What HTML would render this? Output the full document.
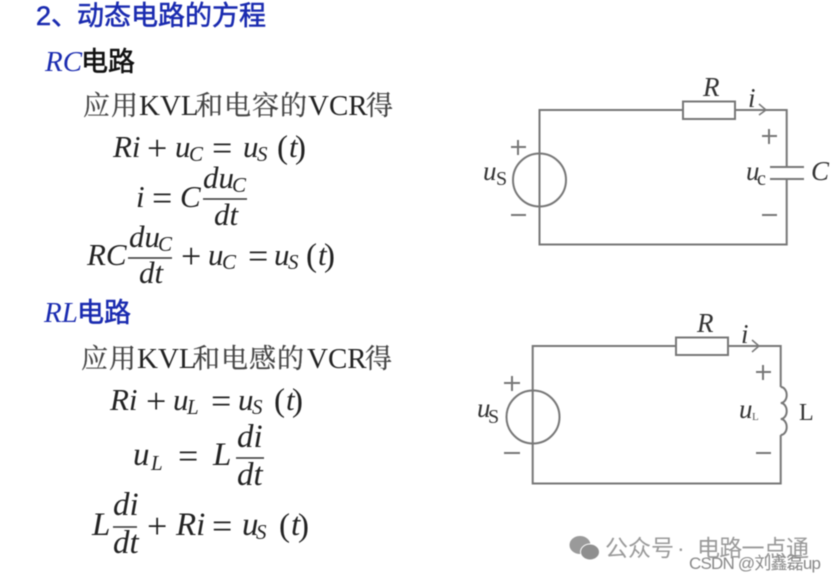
<!DOCTYPE html>
<html lang="zh">
<head>
<meta charset="utf-8">
<title>动态电路的方程</title>
<style>
html,body{margin:0;padding:0;background:#fff;width:836px;height:581px;overflow:hidden}
svg{display:block;filter:blur(.5px)}
text{font-family:"Liberation Serif","Noto Serif CJK SC",serif;fill:#222}
.m{font-style:italic;font-size:31px}
.M{font-style:italic;font-size:33px}
.s{font-style:italic;font-size:21px}
.o{font-size:36px;transform:translateY(3px)}
.p{font-size:33px;transform:translateY(1px)}
.cn{font-size:27px;fill:#444;stroke:#444;stroke-width:.25px}
.en{font-size:29px;fill:#222}
.h{font-family:"Liberation Sans","Noto Sans CJK SC",sans-serif;font-size:27px;fill:#1a2bb0;stroke:#1a2bb0;stroke-width:.55px}
.b{font-family:"Liberation Sans","Noto Sans CJK SC",sans-serif;font-size:27px;fill:#111;stroke:#111;stroke-width:.55px}
.bi{font-style:italic;font-size:29px;fill:#1a2bb0}
.w{stroke:#777;stroke-width:2;fill:none}
.f{stroke:#333;stroke-width:1.5;fill:none}
.c{font-style:italic;font-size:27px;fill:#333}
.cs{font-size:20px;fill:#333}
.wm{font-family:"Liberation Sans","Noto Sans CJK SC",sans-serif;font-size:23px;fill:#999}
.wm2{font-family:"Liberation Sans","Noto Sans CJK SC",sans-serif;font-size:17px;fill:#888}
</style>
</head>
<body>
<svg width="836" height="581" viewBox="0 0 836 581" xmlns="http://www.w3.org/2000/svg">
<rect width="836" height="581" fill="#fff"/>

<text class="h" x="36" y="25">2</text>
<text class="h" x="51" y="25">、</text>
<text class="h" x="77" y="25">动态电路的方程</text>

<text class="bi" x="45" y="71">RC</text>
<text class="b" x="81" y="71">电路</text>

<text class="cn" x="83" y="115" letter-spacing="1">应用</text>
<text class="en" x="139" y="115">KVL</text>
<text class="cn" x="196" y="115" letter-spacing="1">和电容的</text>
<text class="en" x="308" y="115">VCR</text>
<text class="cn" x="366" y="115">得</text>

<text class="m" x="113" y="157">Ri</text>
<text class="o" x="147" y="157">+</text>
<text class="m" x="175" y="157">u</text><text class="s" x="189" y="161">C</text>
<text class="o" x="212" y="157">=</text>
<text class="m" x="243" y="157">u</text><text class="s" x="257" y="161">S</text>
<text class="p" x="277" y="157">(</text><text class="m" x="289" y="157">t</text><text class="p" x="295" y="157">)</text>

<text class="m" x="136" y="207">i</text>
<text class="o" x="152" y="207">=</text>
<text class="m" x="180" y="207">C</text>
<text class="m" x="203" y="188">du</text><text class="s" x="232" y="192">C</text>
<line class="f" x1="203" y1="199" x2="247" y2="199"/>
<text class="m" x="214" y="225">dt</text>

<text class="m" x="87" y="265">RC</text>
<text class="m" x="129" y="247">du</text><text class="s" x="158" y="251">C</text>
<line class="f" x1="128" y1="258" x2="172" y2="258"/>
<text class="m" x="139" y="283">dt</text>
<text class="o" x="181" y="265">+</text>
<text class="m" x="208" y="265">u</text><text class="s" x="222" y="269">C</text>
<text class="o" x="248" y="265">=</text>
<text class="m" x="274" y="265">u</text><text class="s" x="288" y="269">S</text>
<text class="p" x="306" y="265">(</text><text class="m" x="318" y="265">t</text><text class="p" x="324" y="265">)</text>

<text class="bi" x="44" y="322">RL</text>
<text class="h" x="77" y="322">电路</text>

<text class="cn" x="81" y="368" letter-spacing="1">应用</text>
<text class="en" x="137" y="368">KVL</text>
<text class="cn" x="193" y="368" letter-spacing="1">和电感的</text>
<text class="en" x="307" y="368">VCR</text>
<text class="cn" x="365" y="368">得</text>

<text class="m" x="110" y="410">Ri</text>
<text class="o" x="146" y="410">+</text>
<text class="m" x="173" y="410">u</text><text class="s" x="187" y="414">L</text>
<text class="o" x="211" y="410">=</text>
<text class="m" x="238" y="410">u</text><text class="s" x="252" y="414">S</text>
<text class="p" x="274" y="410">(</text><text class="m" x="286" y="410">t</text><text class="p" x="292" y="410">)</text>

<text class="M" x="133" y="465">u</text><text class="s" x="151" y="470">L</text>
<text class="o" x="178" y="465">=</text>
<text class="M" x="213" y="465">L</text>
<text class="M" x="237" y="447">di</text>
<line class="f" x1="236" y1="458" x2="264" y2="458"/>
<text class="M" x="237" y="485">dt</text>

<text class="M" x="92" y="535">L</text>
<text class="M" x="113" y="515">di</text>
<line class="f" x1="113" y1="527" x2="137" y2="527"/>
<text class="M" x="113" y="553">dt</text>
<text class="o" x="147" y="535">+</text>
<text class="M" x="176" y="535">Ri</text>
<text class="o" x="212" y="535">=</text>
<text class="M" x="242" y="535">u</text><text class="s" x="256" y="539">S</text>
<text class="p" x="279" y="535">(</text><text class="M" x="291" y="535">t</text><text class="p" x="298" y="535">)</text>

<!-- RC circuit -->
<polyline class="w" points="683,110 539.5,110 539.5,244.5 786.7,244.5 786.7,179"/>
<polyline class="w" points="735,110 786.7,110 786.7,167"/>
<rect class="w" x="683" y="101.5" width="52" height="17.5"/>
<circle class="w" cx="539.5" cy="180" r="26.5"/>
<line class="w" x1="770" y1="167" x2="804" y2="167"/>
<line class="w" x1="770" y1="179" x2="804" y2="179"/>
<polyline class="w" points="759,104 766,110 759,115" style="stroke-width:1.5"/>
<path class="w" d="M518 140v15M511 147h15M511 215h15M769 129v15M762 136h15M762 215h15"/>
<text class="c" x="703" y="96">R</text>
<text class="c" x="748" y="107">i</text>
<text class="c" x="483" y="180">u</text><text class="cs" x="496" y="185">S</text>
<text class="c" x="746" y="180">u</text><text class="cs" x="757" y="185">c</text>
<text class="c" x="811" y="180">C</text>

<!-- RL circuit -->
<polyline class="w" points="676,346 532.7,346 532.7,483.5 780.7,483.5 780.7,435"/>
<polyline class="w" points="728,346 780.7,346 780.7,387"/>
<path class="w" d="M780.7 387a6 8 0 0 1 0 16a6 8 0 0 1 0 16a6 8 0 0 1 0 16"/>
<rect class="w" x="676" y="337.5" width="52" height="17.5"/>
<circle class="w" cx="533" cy="417" r="26.5"/>
<polyline class="w" points="752,340 759,346 752,352" style="stroke-width:1.5"/>
<path class="w" d="M512 376v15M504 383h16M504 453h16M763 365v15M756 372h15M756 453h15"/>
<text class="c" x="697" y="332">R</text>
<text class="c" x="741" y="343">i</text>
<text class="c" x="477" y="417">u</text><text class="cs" x="488" y="423">S</text>
<text class="c" x="739" y="418">u</text><text x="752" y="420" style="font-size:11px;fill:#555">L</text>
<text x="799" y="420" style="font-size:24px;fill:#333">L</text>

<!-- watermark -->
<ellipse cx="580" cy="545" rx="10.5" ry="9" fill="#9a9a9a"/>
<ellipse cx="590" cy="552" rx="9.5" ry="8" fill="#8f8f8f" stroke="#fff" stroke-width="1"/>
<text class="wm" x="605" y="556">公众号</text>
<text class="wm" x="677" y="556">·</text>
<text class="wm" x="697" y="556" textLength="112">电路一点通</text>
<text class="wm2" x="689" y="569" textLength="132">CSDN @刘鑫磊up</text>
</svg>
</body>
</html>
